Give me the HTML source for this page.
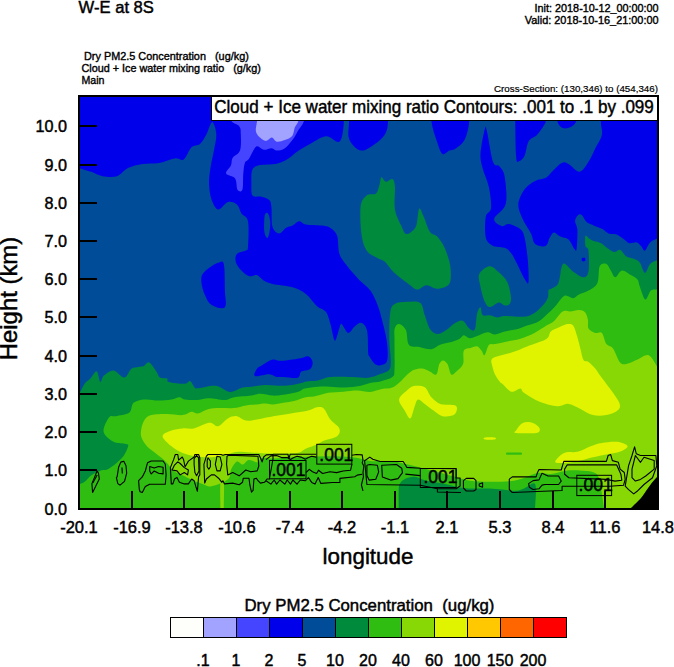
<!DOCTYPE html>
<html><head><meta charset="utf-8">
<style>
html,body{margin:0;padding:0;background:#fff;width:674px;height:667px;overflow:hidden}
svg{display:block;font-family:"Liberation Sans",sans-serif}
.b{stroke:#000;stroke-width:0.45px}
</style></head><body>
<svg width="674" height="667" viewBox="0 0 674 667">
<defs><clipPath id="pc"><rect x="80" y="97" width="577" height="411"/></clipPath></defs><g id="plot" clip-path="url(#pc)"><rect x="80" y="97" width="577" height="411" fill="#004C99"/>
<path fill="#0000EB" d="M80.00,97.00 L343.00,97.00 C343.12,101.48 344.32,116.45 343.70,123.90 C343.08,131.35 342.27,139.65 339.30,141.70 C336.33,143.75 331.10,135.63 325.90,136.20 C320.70,136.77 313.03,142.42 308.10,145.10 C303.17,147.78 299.63,150.02 296.30,152.30 C292.97,154.58 291.37,156.90 288.10,158.80 C284.83,160.70 281.58,162.62 276.70,163.70 C271.82,164.78 262.88,164.22 258.80,165.30 C254.72,166.38 253.43,167.20 252.20,170.20 C250.97,173.20 251.35,179.07 251.40,183.30 C251.45,187.53 250.83,193.37 252.50,195.60 C254.17,197.83 258.62,195.97 261.40,196.70 C264.18,197.43 267.53,198.33 269.20,200.00 C270.87,201.67 270.85,202.25 271.40,206.70 C271.95,211.15 271.20,222.25 272.50,226.70 C273.80,231.15 276.97,233.20 279.20,233.40 C281.43,233.60 283.68,229.20 285.90,227.90 C288.12,226.60 290.28,226.72 292.50,225.60 C294.72,224.48 296.97,221.38 299.20,221.20 C301.43,221.02 302.18,223.77 305.90,224.50 C309.62,225.23 317.42,225.03 321.50,225.60 C325.58,226.17 327.80,226.23 330.40,227.90 C333.00,229.57 335.62,231.35 337.10,235.60 C338.58,239.85 337.82,248.57 339.30,253.40 C340.78,258.23 342.67,260.17 346.00,264.60 C349.33,269.03 355.23,275.67 359.30,280.00 C363.37,284.33 367.28,286.23 370.40,290.60 C373.52,294.97 375.98,301.00 378.00,306.20 C380.02,311.40 381.02,315.87 382.50,321.80 C383.98,327.73 386.13,335.30 386.90,341.80 C387.67,348.30 388.18,356.90 387.10,360.80 C386.02,364.70 382.50,364.72 380.40,365.20 C378.30,365.68 376.35,365.18 374.50,363.70 C372.65,362.22 370.35,358.08 369.30,356.30 C368.25,354.52 368.57,357.27 368.20,353.00 C367.83,348.73 368.22,335.72 367.10,330.70 C365.98,325.68 363.53,323.63 361.50,322.90 C359.47,322.17 357.12,324.63 354.90,326.30 C352.68,327.97 350.43,333.28 348.20,332.90 C345.97,332.52 342.98,324.73 341.50,324.00 C340.02,323.27 340.42,325.72 339.30,328.50 C338.18,331.28 336.28,341.45 334.80,340.70 C333.32,339.95 331.88,328.82 330.40,324.00 C328.92,319.18 328.13,314.77 325.90,311.80 C323.67,308.83 320.33,309.17 317.00,306.20 C313.67,303.23 309.98,297.15 305.90,294.00 C301.82,290.85 298.07,288.97 292.50,287.30 C286.93,285.63 277.32,285.12 272.50,284.00 C267.68,282.88 266.20,282.08 263.60,280.60 C261.00,279.12 259.32,275.83 256.90,275.10 C254.48,274.37 251.68,276.95 249.10,276.20 C246.52,275.45 243.62,272.97 241.40,270.60 C239.18,268.23 236.55,264.78 235.80,262.00 C235.05,259.22 235.23,255.80 236.90,253.90 C238.57,252.00 243.95,251.78 245.80,250.60 C247.65,249.42 247.63,251.70 248.00,246.80 C248.37,241.90 249.10,226.77 248.00,221.20 C246.90,215.63 243.25,216.18 241.40,213.40 C239.55,210.62 239.13,206.40 236.90,204.50 C234.67,202.60 231.12,201.15 228.00,202.00 C224.88,202.85 220.95,210.00 218.20,209.60 C215.45,209.20 213.03,203.98 211.50,199.60 C209.97,195.22 209.15,188.73 209.00,183.30 C208.85,177.87 209.78,172.45 210.60,167.00 C211.42,161.55 212.95,156.05 213.90,150.60 C214.85,145.15 216.58,139.07 216.30,134.30 C216.02,129.53 213.83,122.00 212.20,122.00 C210.57,122.00 208.53,130.63 206.50,134.30 C204.47,137.97 202.50,141.83 200.00,144.00 C197.50,146.17 194.22,144.72 191.50,147.30 C188.78,149.88 186.48,157.65 183.70,159.50 C180.92,161.35 178.88,157.83 174.80,158.40 C170.72,158.97 164.58,161.97 159.20,162.90 C153.82,163.83 147.70,163.15 142.50,164.00 C137.30,164.85 132.25,165.97 128.00,168.00 C123.75,170.03 121.25,174.83 117.00,176.20 C112.75,177.57 106.77,176.93 102.50,176.20 C98.23,175.47 95.15,173.10 91.40,171.80 C87.65,170.50 81.90,168.97 80.00,168.40 L80.00,97.00Z"/>
<path fill="#004C99" d="M264.70,215.60 C265.32,212.63 267.07,212.28 268.00,213.40 C268.93,214.52 270.10,218.97 270.30,222.30 C270.50,225.63 269.75,230.80 269.20,233.40 C268.65,236.00 267.82,238.27 267.00,237.90 C266.18,237.53 264.68,234.92 264.30,231.20 C263.92,227.48 264.08,218.57 264.70,215.60Z"/>
<path fill="#0000EB" d="M349.00,97.00 L388.00,97.00 C388.00,101.05 388.37,115.33 388.00,121.30 C387.63,127.27 387.47,129.40 385.80,132.80 C384.13,136.20 382.05,138.73 378.00,141.70 C373.95,144.67 366.28,150.97 361.50,150.60 C356.72,150.23 351.38,144.43 349.30,139.50 C347.22,134.57 349.05,128.08 349.00,121.00 C348.95,113.92 349.00,101.00 349.00,97.00Z"/>
<path fill="#0000EB" d="M431.40,97.00 L469.30,97.00 C469.30,101.05 470.05,114.22 469.30,121.30 C468.55,128.38 467.03,134.98 464.80,139.50 C462.57,144.02 458.50,146.55 455.90,148.40 C453.30,150.25 451.43,149.67 449.20,150.60 C446.97,151.53 444.53,155.48 442.50,154.00 C440.47,152.52 438.85,147.15 437.00,141.70 C435.15,136.25 432.33,128.75 431.40,121.30 C430.47,113.85 431.40,101.05 431.40,97.00Z"/>
<path fill="#0000EB" d="M484.70,129.50 C485.75,125.65 485.40,125.08 486.80,130.50 C488.20,135.92 491.00,156.05 493.10,162.00 C495.20,167.95 497.47,163.75 499.40,166.20 C501.33,168.65 503.65,170.40 504.70,176.70 C505.75,183.00 507.45,197.00 505.70,204.00 C503.95,211.00 494.90,215.02 494.20,218.70 C493.50,222.38 499.05,225.22 501.50,226.10 C503.95,226.98 505.75,223.48 508.90,224.00 C512.05,224.52 517.78,226.93 520.40,229.20 C523.02,231.47 523.37,232.47 524.60,237.60 C525.83,242.73 527.15,252.60 527.80,260.00 C528.45,267.40 528.98,278.75 528.50,282.00 C528.02,285.25 526.98,282.88 524.90,279.50 C522.82,276.12 518.15,265.87 516.00,261.70 C513.85,257.53 513.72,256.75 512.00,254.50 C510.28,252.25 508.85,249.62 505.70,248.20 C502.55,246.78 496.42,247.77 493.10,246.00 C489.78,244.23 487.02,242.50 485.80,237.60 C484.58,232.70 484.93,221.50 485.80,216.60 C486.67,211.70 490.48,213.10 491.00,208.20 C491.52,203.30 490.30,193.85 488.90,187.20 C487.50,180.55 484.00,173.90 482.60,168.30 C481.20,162.70 480.15,160.07 480.50,153.60 C480.85,147.13 483.65,133.35 484.70,129.50Z"/>
<path fill="#0000EB" d="M515.20,97.00 L545.60,97.00 C545.60,100.83 545.77,115.47 545.60,120.00 C545.43,124.53 546.00,121.75 544.60,124.20 C543.20,126.65 539.83,131.90 537.20,134.70 C534.57,137.50 530.90,137.50 528.80,141.00 C526.70,144.50 526.17,152.37 524.60,155.70 C523.03,159.03 520.80,160.65 519.40,161.00 C518.00,161.35 516.90,164.63 516.20,157.80 C515.50,150.97 515.37,130.13 515.20,120.00 C515.03,109.87 515.20,100.83 515.20,97.00Z"/>
<path fill="#0000EB" d="M600.80,97.00 L657.00,97.00 L657.00,238.70 C655.85,239.32 652.12,240.42 650.10,242.40 C648.08,244.38 646.38,249.97 644.90,250.60 C643.42,251.23 642.57,247.57 641.20,246.20 C639.83,244.83 638.68,242.90 636.70,242.40 C634.72,241.90 631.53,243.82 629.30,243.20 C627.07,242.58 625.53,240.18 623.30,238.70 C621.07,237.22 618.37,235.17 615.90,234.30 C613.43,233.43 610.72,234.37 608.50,233.50 C606.28,232.63 605.07,230.45 602.60,229.10 C600.13,227.75 596.42,226.63 593.70,225.40 C590.98,224.17 588.28,223.43 586.30,221.70 C584.32,219.97 583.17,216.12 581.80,215.00 C580.43,213.88 579.22,214.02 578.10,215.00 C576.98,215.98 575.22,218.43 575.10,220.90 C574.98,223.37 577.15,225.10 577.40,229.80 C577.65,234.50 577.15,246.00 576.60,249.10 C576.05,252.20 575.45,250.00 574.10,248.40 C572.75,246.80 570.80,241.47 568.50,239.50 C566.20,237.53 562.72,237.78 560.30,236.60 C557.88,235.42 555.75,232.23 554.00,232.40 C552.25,232.57 551.20,235.33 549.80,237.60 C548.40,239.87 548.05,244.95 545.60,246.00 C543.15,247.05 537.55,246.00 535.10,243.90 C532.65,241.80 533.00,237.60 530.90,233.40 C528.80,229.20 524.60,223.60 522.50,218.70 C520.40,213.80 517.95,208.90 518.30,204.00 C518.65,199.10 521.80,193.15 524.60,189.30 C527.40,185.45 531.48,182.88 535.10,180.90 C538.72,178.92 543.33,179.10 546.30,177.40 C549.27,175.70 550.32,173.12 552.90,170.70 C555.48,168.28 559.20,164.02 561.80,162.90 C564.40,161.78 565.53,162.52 568.50,164.00 C571.47,165.48 576.27,172.17 579.60,171.80 C582.93,171.43 585.90,165.70 588.50,161.80 C591.10,157.90 592.97,152.85 595.20,148.40 C597.43,143.95 600.97,139.62 601.90,135.10 C602.83,130.58 600.98,127.65 600.80,121.30 C600.62,114.95 600.80,101.05 600.80,97.00Z"/>
<path fill="#0000EB" d="M557.40,97.00 L576.30,97.00 C576.30,101.05 578.15,116.07 576.30,121.30 C574.45,126.53 568.35,128.40 565.20,128.40 C562.05,128.40 558.70,126.53 557.40,121.30 C556.10,116.07 557.40,101.05 557.40,97.00Z"/>
<path fill="#0000EB" d="M582.00,258.00 C582.50,257.50 584.50,257.50 585.00,258.00 C585.50,258.50 585.50,260.50 585.00,261.00 C584.50,261.50 582.50,261.50 582.00,261.00 C581.50,260.50 581.50,258.50 582.00,258.00Z"/>
<path fill="#0000EB" d="M202.60,274.00 C204.27,271.22 208.90,268.07 211.50,266.20 C214.10,264.33 216.15,263.18 218.20,262.80 C220.25,262.42 222.68,259.27 223.80,263.90 C224.92,268.53 224.72,283.37 224.90,290.60 C225.08,297.83 227.13,304.88 224.90,307.30 C222.67,309.72 214.83,307.13 211.50,305.10 C208.17,303.07 206.57,298.80 204.90,295.10 C203.23,291.40 201.88,286.42 201.50,282.90 C201.12,279.38 200.93,276.78 202.60,274.00Z"/>
<path fill="#0000EB" d="M255.00,376.00 C252.93,375.12 255.62,370.68 256.80,368.90 C257.98,367.12 259.48,366.85 262.10,365.30 C264.72,363.75 269.28,360.35 272.50,359.60 C275.72,358.85 276.95,360.98 281.40,360.80 C285.85,360.62 294.75,359.25 299.20,358.50 C303.65,357.75 305.87,355.73 308.10,356.30 C310.33,356.87 312.25,359.80 312.60,361.90 C312.95,364.00 312.08,367.28 310.20,368.90 C308.32,370.52 303.38,370.12 301.30,371.60 C299.22,373.08 300.67,376.92 297.70,377.80 C294.73,378.68 287.07,377.05 283.50,376.90 C279.93,376.75 278.68,377.35 276.30,376.90 C273.92,376.45 272.75,374.35 269.20,374.20 C265.65,374.05 257.07,376.88 255.00,376.00Z"/>
<path fill="#4545FF" d="M230.20,97.00 L304.50,97.00 C304.50,100.67 305.60,113.33 304.50,119.00 C303.40,124.67 299.82,127.63 297.90,131.00 C295.98,134.37 295.17,136.33 293.00,139.20 C290.83,142.07 287.62,146.30 284.90,148.20 C282.18,150.10 278.88,150.60 276.70,150.60 C274.52,150.60 273.97,148.33 271.80,148.20 C269.63,148.07 266.28,150.07 263.70,149.80 C261.12,149.53 258.75,145.10 256.30,146.60 C253.85,148.10 250.90,156.08 249.00,158.80 C247.10,161.52 245.85,160.45 244.90,162.90 C243.95,165.35 243.72,169.02 243.30,173.50 C242.88,177.98 243.37,187.08 242.40,189.80 C241.43,192.52 238.72,191.70 237.50,189.80 C236.28,187.90 237.00,181.12 235.10,178.40 C233.20,175.68 226.78,175.68 226.10,173.50 C225.42,171.32 229.92,167.88 231.00,165.30 C232.08,162.72 231.10,160.45 232.60,158.00 C234.10,155.55 238.63,154.55 240.00,150.60 C241.37,146.65 240.93,138.37 240.80,134.30 C240.67,130.23 240.97,128.75 239.20,126.20 C237.43,123.65 231.70,123.87 230.20,119.00 C228.70,114.13 230.20,100.67 230.20,97.00Z"/>
<path fill="#A2A2FF" d="M257.10,97.00 L298.70,97.00 C298.70,100.67 299.37,113.87 298.70,119.00 C298.03,124.13 295.78,124.97 294.70,127.80 C293.62,130.63 293.83,133.97 292.20,136.00 C290.57,138.03 287.48,139.05 284.90,140.00 C282.32,140.95 278.88,142.10 276.70,141.70 C274.52,141.30 273.70,137.75 271.80,137.60 C269.90,137.45 267.88,141.62 265.30,140.80 C262.72,139.98 257.67,136.33 256.30,132.70 C254.93,129.07 256.97,124.95 257.10,119.00 C257.23,113.05 257.10,100.67 257.10,97.00Z"/>
<path fill="#008B3C" d="M381.40,177.20 C382.45,176.75 384.10,181.40 385.90,181.70 C387.70,182.00 390.70,178.25 392.20,179.00 C393.70,179.75 394.45,181.10 394.90,186.20 C395.35,191.30 393.85,203.00 394.90,209.60 C395.95,216.20 399.40,221.75 401.20,225.80 C403.00,229.85 403.90,233.00 405.70,233.90 C407.50,234.80 410.20,232.70 412.00,231.20 C413.80,229.70 415.30,228.65 416.50,224.90 C417.70,221.15 418.00,210.05 419.20,208.70 C420.40,207.35 421.90,212.90 423.70,216.80 C425.50,220.70 427.75,228.80 430.00,232.10 C432.25,235.40 434.80,234.05 437.20,236.60 C439.60,239.15 442.30,242.90 444.40,247.40 C446.50,251.90 448.75,258.50 449.80,263.60 C450.85,268.70 451.00,274.40 450.70,278.00 C450.40,281.60 450.25,283.42 448.00,285.20 C445.75,286.98 440.80,288.70 437.20,288.70 C433.60,288.70 429.70,285.05 426.40,285.20 C423.10,285.35 420.10,289.60 417.40,289.60 C414.70,289.60 414.10,288.03 410.20,285.20 C406.30,282.37 398.20,276.50 394.00,272.60 C389.80,268.70 387.70,264.20 385.00,261.80 C382.30,259.40 380.80,260.00 377.80,258.20 C374.80,256.40 369.70,254.90 367.00,251.00 C364.30,247.10 362.65,242.30 361.60,234.80 C360.55,227.30 359.80,212.60 360.70,206.00 C361.60,199.40 364.45,197.30 367.00,195.20 C369.55,193.10 373.90,195.20 376.00,193.40 C378.10,191.60 378.70,187.10 379.60,184.40 C380.50,181.70 380.35,177.65 381.40,177.20Z"/>
<path fill="#008B3C" d="M479.30,274.00 C480.78,270.67 486.15,266.58 489.30,266.20 C492.45,265.82 495.23,269.12 498.20,271.70 C501.17,274.28 505.00,277.67 507.10,281.70 C509.20,285.73 510.32,292.28 510.80,295.90 C511.28,299.52 511.00,301.78 510.00,303.40 C509.00,305.02 506.65,305.73 504.80,305.60 C502.95,305.47 501.37,302.35 498.90,302.60 C496.43,302.85 492.35,307.23 490.00,307.10 C487.65,306.97 486.40,305.28 484.80,301.80 C483.20,298.32 481.32,290.83 480.40,286.20 C479.48,281.57 477.82,277.33 479.30,274.00Z"/>
<path fill="#008B3C" d="M80.00,508.00 L80.00,392.00 C80.12,391.83 79.85,392.50 80.70,391.00 C81.55,389.50 83.47,385.08 85.10,383.00 C86.73,380.92 88.57,380.43 90.50,378.50 C92.43,376.57 95.07,370.82 96.70,371.40 C98.33,371.98 99.12,381.27 100.30,382.00 C101.48,382.73 101.58,377.72 103.80,375.80 C106.02,373.88 110.18,370.20 113.60,370.50 C117.02,370.80 121.33,377.90 124.30,377.60 C127.27,377.30 129.03,370.48 131.40,368.70 C133.77,366.92 136.42,367.35 138.50,366.90 C140.58,366.45 142.12,366.73 143.90,366.00 C145.68,365.27 147.13,361.60 149.20,362.50 C151.27,363.40 154.52,368.88 156.30,371.40 C158.08,373.92 158.12,376.42 159.90,377.60 C161.68,378.78 165.52,377.77 167.00,378.50 C168.48,379.23 165.83,381.12 168.80,382.00 C171.77,382.88 181.23,383.93 184.80,383.80 C188.37,383.67 188.57,380.60 190.20,381.20 C191.83,381.80 193.30,386.22 194.60,387.40 C195.90,388.58 194.47,388.57 198.00,388.30 C201.53,388.03 210.47,385.18 215.80,385.80 C221.13,386.42 225.55,391.70 230.00,392.00 C234.45,392.30 238.93,388.48 242.50,387.60 C246.07,386.72 247.55,387.15 251.40,386.70 C255.25,386.25 260.55,385.05 265.60,384.90 C270.65,384.75 277.25,385.80 281.70,385.80 C286.15,385.80 289.03,385.35 292.30,384.90 C295.57,384.45 298.92,383.68 301.30,383.10 C303.68,382.52 303.82,381.83 306.60,381.40 C309.38,380.97 314.10,381.22 318.00,380.50 C321.90,379.78 324.28,377.67 330.00,377.10 C335.72,376.53 345.87,376.98 352.30,377.10 C358.73,377.22 363.92,378.30 368.60,377.80 C373.28,377.30 376.95,375.45 380.40,374.10 C383.85,372.75 387.57,372.17 389.30,369.70 C391.03,367.23 390.80,364.25 390.80,359.30 C390.80,354.35 389.40,347.73 389.30,340.00 C389.20,332.27 389.30,318.90 390.20,312.90 C391.10,306.90 391.92,305.85 394.70,304.00 C397.48,302.15 402.63,301.98 406.90,301.80 C411.17,301.62 417.33,300.68 420.30,302.90 C423.27,305.12 423.03,310.65 424.70,315.10 C426.37,319.55 428.07,326.45 430.30,329.60 C432.53,332.75 435.32,334.00 438.10,334.00 C440.88,334.00 444.40,331.27 447.00,329.60 C449.60,327.93 451.10,325.48 453.70,324.00 C456.30,322.52 460.00,319.95 462.60,320.70 C465.20,321.45 467.27,327.02 469.30,328.50 C471.33,329.98 473.52,332.02 474.80,329.60 C476.08,327.18 476.07,317.72 477.00,314.00 C477.93,310.28 479.47,307.12 480.40,307.30 C481.33,307.48 481.00,313.78 482.60,315.10 C484.20,316.42 487.53,314.82 490.00,315.20 C492.47,315.58 494.93,317.27 497.40,317.40 C499.87,317.53 500.35,316.12 504.80,316.00 C509.25,315.88 519.15,317.20 524.10,316.70 C529.05,316.20 531.28,314.98 534.50,313.00 C537.72,311.02 541.17,307.40 543.40,304.80 C545.63,302.20 547.03,299.87 547.90,297.40 C548.77,294.93 547.95,291.50 548.60,290.00 C549.25,288.50 550.15,289.58 551.80,288.40 C553.45,287.22 556.63,286.98 558.50,282.90 C560.37,278.82 560.60,265.82 563.00,263.90 C565.40,261.98 569.52,269.17 572.90,271.40 C576.28,273.63 580.70,277.30 583.30,277.30 C585.90,277.30 587.63,275.85 588.50,271.40 C589.37,266.95 589.00,254.80 588.50,250.60 C588.00,246.40 586.00,248.67 585.50,246.20 C585.00,243.73 584.88,237.05 585.50,235.80 C586.12,234.55 587.83,237.83 589.20,238.70 C590.57,239.57 591.72,240.25 593.70,241.00 C595.68,241.75 598.63,241.85 601.10,243.20 C603.57,244.55 606.28,247.62 608.50,249.10 C610.72,250.58 612.42,251.97 614.40,252.10 C616.38,252.23 618.42,249.17 620.40,249.90 C622.38,250.63 624.08,255.02 626.30,256.50 C628.52,257.98 631.47,257.80 633.70,258.80 C635.93,259.80 637.83,260.15 639.70,262.50 C641.57,264.85 643.17,272.65 644.90,272.90 C646.63,273.15 648.08,266.10 650.10,264.00 C652.12,261.90 655.85,260.92 657.00,260.30 L657.00,508.00 L80.00,508.00Z"/>
<path fill="#30BD12" d="M80.00,508.00 L80.00,484.00 C80.78,483.63 82.80,483.27 84.70,481.80 C86.60,480.33 88.80,477.05 91.40,475.20 C94.00,473.35 97.33,471.82 100.30,470.70 C103.27,469.58 105.50,470.73 109.20,468.50 C112.90,466.27 119.35,461.02 122.50,457.30 C125.65,453.58 127.53,448.42 128.10,446.20 C128.67,443.98 128.32,444.73 125.90,444.00 C123.48,443.27 117.32,443.83 113.60,441.80 C109.88,439.77 104.33,435.88 103.60,431.80 C102.87,427.72 107.17,419.90 109.20,417.30 C111.23,414.70 112.47,416.95 115.80,416.20 C119.13,415.45 126.23,415.03 129.20,412.80 C132.17,410.57 131.00,405.02 133.60,402.80 C136.20,400.58 140.72,399.87 144.80,399.50 C148.88,399.13 153.65,400.60 158.10,400.60 C162.55,400.60 167.97,400.05 171.50,399.50 C175.03,398.95 177.08,397.30 179.30,397.30 C181.52,397.30 181.68,399.05 184.80,399.50 C187.92,399.95 194.02,400.20 198.00,400.00 C201.98,399.80 204.25,398.30 208.70,398.30 C213.15,398.30 220.55,400.15 224.70,400.00 C228.85,399.85 229.15,398.13 233.60,397.40 C238.05,396.67 246.95,396.20 251.40,395.60 C255.85,395.00 256.73,393.80 260.30,393.80 C263.87,393.80 268.93,395.45 272.80,395.60 C276.67,395.75 279.35,395.30 283.50,394.70 C287.65,394.10 294.15,393.03 297.70,392.00 C301.25,390.97 301.42,389.38 304.80,388.50 C308.18,387.62 313.80,387.00 318.00,386.70 C322.20,386.40 325.53,386.57 330.00,386.70 C334.47,386.83 339.85,387.62 344.80,387.50 C349.75,387.38 355.48,386.75 359.70,386.00 C363.92,385.25 366.65,383.75 370.10,383.00 C373.55,382.25 376.70,382.48 380.40,381.50 C384.10,380.52 389.95,379.07 392.30,377.10 C394.65,375.13 394.13,375.88 394.50,369.70 C394.87,363.52 394.47,346.87 394.50,340.00 C394.53,333.13 393.93,331.17 394.70,328.50 C395.47,325.83 397.23,323.75 399.10,324.00 C400.97,324.25 404.27,326.53 405.90,330.00 C407.53,333.47 406.67,341.95 408.90,344.80 C411.13,347.65 415.58,346.35 419.30,347.10 C423.02,347.85 427.73,349.68 431.20,349.30 C434.67,348.92 437.13,345.92 440.10,344.80 C443.07,343.68 445.80,343.58 449.00,342.60 C452.20,341.62 456.83,340.13 459.30,338.90 C461.77,337.67 462.07,335.32 463.80,335.20 C465.53,335.08 467.47,338.08 469.70,338.20 C471.93,338.32 474.23,336.90 477.20,335.90 C480.17,334.90 484.53,332.43 487.50,332.20 C490.47,331.97 492.12,334.62 495.00,334.50 C497.88,334.38 501.18,332.37 504.80,331.50 C508.42,330.63 512.98,330.28 516.70,329.30 C520.42,328.32 523.38,326.95 527.10,325.60 C530.82,324.25 535.30,323.42 539.00,321.20 C542.70,318.98 546.58,314.78 549.30,312.30 C552.02,309.82 552.82,309.03 555.30,306.30 C557.78,303.57 561.23,297.25 564.20,295.90 C567.17,294.55 570.63,298.43 573.10,298.20 C575.57,297.97 576.43,295.77 579.00,294.50 C581.57,293.23 585.43,292.53 588.50,290.60 C591.57,288.67 595.53,286.97 597.40,282.90 C599.27,278.83 598.20,269.37 599.70,266.20 C601.20,263.03 604.55,263.17 606.40,263.90 C608.25,264.63 609.32,268.37 610.80,270.60 C612.28,272.83 613.45,277.30 615.30,277.30 C617.15,277.30 619.32,270.97 621.90,270.60 C624.48,270.23 628.20,273.62 630.80,275.10 C633.40,276.58 636.02,277.65 637.50,279.50 C638.98,281.35 638.40,282.87 639.70,286.20 C641.00,289.53 643.43,298.77 645.30,299.50 C647.17,300.23 648.95,292.27 650.90,290.60 C652.85,288.93 655.98,289.68 657.00,289.50 L657.00,508.00 L80.00,508.00Z"/>
<path fill="#008B3C" d="M398.70,508.00 C398.70,505.00 398.48,494.10 398.70,490.00 C398.92,485.90 398.88,485.28 400.00,483.40 C401.12,481.52 402.95,479.82 405.40,478.70 C407.85,477.58 411.15,476.37 414.70,476.70 C418.25,477.03 422.02,479.58 426.70,480.70 C431.38,481.82 437.23,482.28 442.80,483.40 C448.37,484.52 455.32,486.55 460.10,487.40 C464.88,488.25 466.63,488.32 471.50,488.50 C476.37,488.68 484.12,488.32 489.30,488.50 C494.48,488.68 498.15,489.23 502.60,489.60 C507.05,489.97 512.43,490.88 516.00,490.70 C519.57,490.52 520.82,489.60 524.00,488.50 C527.18,487.40 533.25,480.85 535.10,484.10 C536.95,487.35 535.10,504.02 535.10,508.00 L398.70,508.00Z"/>
<path fill="#88D806" d="M141.40,437.30 C140.47,434.33 140.83,431.37 141.40,428.40 C141.97,425.43 143.13,421.72 144.80,419.50 C146.47,417.28 147.70,416.02 151.40,415.10 C155.10,414.18 161.80,414.00 167.00,414.00 C172.20,414.00 178.52,415.48 182.60,415.10 C186.68,414.72 188.93,411.98 191.50,411.70 C194.07,411.42 195.13,413.85 198.00,413.40 C200.87,412.95 205.13,409.88 208.70,409.00 C212.27,408.12 215.25,408.25 219.40,408.10 C223.55,407.95 229.15,408.55 233.60,408.10 C238.05,407.65 242.23,406.00 246.10,405.40 C249.97,404.80 253.55,404.80 256.80,404.50 C260.05,404.20 262.93,403.60 265.60,403.60 C268.27,403.60 269.82,404.65 272.80,404.50 C275.78,404.35 279.95,403.30 283.50,402.70 C287.05,402.10 290.55,401.78 294.10,400.90 C297.65,400.02 301.53,398.13 304.80,397.40 C308.07,396.67 311.50,396.80 313.70,396.50 C315.90,396.20 315.58,396.22 318.00,395.60 C320.42,394.98 323.92,393.45 328.20,392.80 C332.48,392.15 338.88,392.07 343.70,391.70 C348.52,391.33 352.70,390.57 357.10,390.60 C361.50,390.63 365.97,392.17 370.10,391.90 C374.23,391.63 378.20,389.73 381.90,389.00 C385.60,388.27 389.28,388.68 392.30,387.50 C395.32,386.32 397.73,383.82 400.00,381.90 C402.27,379.98 403.67,377.97 405.90,376.00 C408.13,374.03 410.67,371.33 413.40,370.10 C416.13,368.87 419.58,368.37 422.30,368.60 C425.02,368.83 427.35,370.52 429.70,371.50 C432.05,372.48 434.80,375.73 436.40,374.50 C438.00,373.27 438.20,366.45 439.30,364.10 C440.40,361.75 441.63,360.40 443.00,360.40 C444.37,360.40 446.13,361.75 447.50,364.10 C448.87,366.45 449.72,373.27 451.20,374.50 C452.68,375.73 454.42,373.23 456.40,371.50 C458.38,369.77 461.87,367.55 463.10,364.10 C464.33,360.65 462.45,353.52 463.80,350.80 C465.15,348.08 468.97,348.55 471.20,347.80 C473.43,347.05 475.47,345.80 477.20,346.30 C478.93,346.80 480.37,349.32 481.60,350.80 C482.83,352.28 483.37,356.20 484.60,355.20 C485.83,354.20 487.27,346.65 489.00,344.80 C490.73,342.95 492.37,344.58 495.00,344.10 C497.63,343.62 500.68,342.75 504.80,341.90 C508.92,341.05 514.75,340.48 519.70,339.00 C524.65,337.52 530.05,335.23 534.50,333.00 C538.95,330.77 543.18,327.57 546.40,325.60 C549.62,323.63 551.08,323.55 553.80,321.20 C556.52,318.85 559.98,313.12 562.70,311.50 C565.42,309.88 567.38,311.75 570.10,311.50 C572.82,311.25 576.52,309.87 579.00,310.00 C581.48,310.13 583.52,310.68 585.00,312.30 C586.48,313.92 587.32,317.00 587.90,319.70 C588.48,322.40 587.28,326.30 588.50,328.50 C589.72,330.70 592.97,332.17 595.20,332.90 C597.43,333.63 600.03,331.03 601.90,332.90 C603.77,334.77 604.55,341.50 606.40,344.10 C608.25,346.70 610.78,345.53 613.00,348.50 C615.22,351.47 617.47,359.30 619.70,361.90 C621.93,364.50 623.43,364.48 626.40,364.10 C629.37,363.72 633.80,361.08 637.50,359.60 C641.20,358.12 645.35,354.08 648.60,355.20 C651.85,356.32 655.60,364.45 657.00,366.30 L657.00,508.00 L604.00,508.00 C603.28,503.63 601.17,487.63 599.70,481.80 C598.23,475.97 598.17,474.85 595.20,473.00 C592.23,471.15 586.72,471.08 581.90,470.70 C577.08,470.32 571.50,470.15 566.30,470.70 C561.10,471.25 555.52,473.62 550.70,474.00 C545.88,474.38 541.85,472.33 537.40,473.00 C532.95,473.67 528.32,476.67 524.00,478.00 C519.68,479.33 517.28,480.37 511.50,481.00 C505.72,481.63 496.22,481.85 489.30,481.80 C482.38,481.75 475.75,481.55 470.00,480.70 C464.25,479.85 460.45,478.25 454.80,476.70 C449.15,475.15 441.90,472.95 436.10,471.40 C430.30,469.85 425.12,468.63 420.00,467.40 C414.88,466.17 409.83,465.02 405.40,464.00 C400.97,462.98 397.97,461.80 393.40,461.30 C388.83,460.80 381.83,461.05 378.00,461.00 C374.17,460.95 374.63,461.62 370.40,461.00 C366.17,460.38 359.67,458.08 352.60,457.30 C345.53,456.52 336.53,456.35 328.00,456.30 C319.47,456.25 310.65,456.63 301.40,457.00 C292.15,457.37 279.05,458.37 272.50,458.50 C265.95,458.63 264.57,457.17 262.10,457.80 C259.63,458.43 259.92,461.93 257.70,462.30 C255.48,462.67 251.28,459.63 248.80,460.00 C246.32,460.37 244.78,464.25 242.80,464.50 C240.82,464.75 238.87,460.63 236.90,461.50 C234.93,462.37 232.48,466.73 231.00,469.70 C229.52,472.67 231.25,476.53 228.00,479.30 C224.75,482.07 215.73,485.50 211.50,486.30 C207.27,487.10 205.93,485.22 202.60,484.10 C199.27,482.98 194.83,481.08 191.50,479.60 C188.17,478.12 185.57,476.68 182.60,475.20 C179.63,473.72 176.67,473.12 173.70,470.70 C170.73,468.28 168.13,463.85 164.80,460.70 C161.47,457.55 156.67,454.22 153.70,451.80 C150.73,449.38 149.05,448.62 147.00,446.20 C144.95,443.78 142.33,440.27 141.40,437.30Z"/>
<path fill="#88D806" d="M220.40,482.00 C220.97,477.67 223.23,477.67 223.80,482.00 C224.37,486.33 223.80,503.67 223.80,508.00 L220.40,508.00 C220.40,503.67 219.83,486.33 220.40,482.00Z"/>
<rect x="506" y="452.5" width="16" height="2.2" rx="1" fill="#30BD12"/>
<path fill="#E0F400" d="M162.60,436.20 C162.60,433.60 168.17,431.90 171.50,430.60 C174.83,429.30 178.90,428.77 182.60,428.40 C186.30,428.03 189.98,429.13 193.70,428.40 C197.42,427.67 201.93,424.92 204.90,424.00 C207.87,423.08 209.28,422.53 211.50,422.90 C213.72,423.27 215.45,426.95 218.20,426.20 C220.95,425.45 224.88,420.07 228.00,418.40 C231.12,416.73 233.93,415.83 236.90,416.20 C239.87,416.57 242.47,420.05 245.80,420.60 C249.13,421.15 253.18,420.05 256.90,419.50 C260.62,418.95 264.02,418.03 268.10,417.30 C272.18,416.57 276.95,415.85 281.40,415.10 C285.85,414.35 290.35,413.55 294.80,412.80 C299.25,412.05 304.40,411.52 308.10,410.60 C311.80,409.68 314.40,407.67 317.00,407.30 C319.60,406.93 321.47,406.37 323.70,408.40 C325.93,410.43 327.80,416.17 330.40,419.50 C333.00,422.83 338.18,425.62 339.30,428.40 C340.42,431.18 339.70,434.15 337.10,436.20 C334.50,438.25 327.05,439.32 323.70,440.70 C320.35,442.08 320.08,443.13 317.00,444.50 C313.92,445.87 308.17,447.55 305.20,448.90 C302.23,450.25 302.18,451.85 299.20,452.60 C296.22,453.35 292.98,453.27 287.30,453.40 C281.62,453.53 271.27,453.53 265.10,453.40 C258.93,453.27 255.00,452.85 250.30,452.60 C245.60,452.35 240.62,451.67 236.90,451.90 C233.18,452.13 232.23,453.10 228.00,454.00 C223.77,454.90 216.83,456.93 211.50,457.30 C206.17,457.67 200.82,456.93 196.00,456.20 C191.18,455.47 186.68,454.57 182.60,452.90 C178.52,451.23 174.83,448.98 171.50,446.20 C168.17,443.42 162.60,438.80 162.60,436.20Z"/>
<path fill="#E0F400" d="M399.10,399.50 C399.47,396.17 404.48,392.83 406.90,390.60 C409.32,388.37 410.63,386.67 413.60,386.10 C416.57,385.53 421.73,385.33 424.70,387.20 C427.67,389.07 428.80,394.52 431.40,397.30 C434.00,400.08 436.58,402.62 440.30,403.90 C444.02,405.18 450.92,404.25 453.70,405.00 C456.48,405.75 457.00,406.72 457.00,408.40 C457.00,410.08 456.12,413.80 453.70,415.10 C451.28,416.40 445.85,416.95 442.50,416.20 C439.15,415.45 436.57,412.65 433.60,410.60 C430.63,408.55 427.28,405.75 424.70,403.90 C422.12,402.05 419.77,399.12 418.10,399.50 C416.43,399.88 416.00,403.05 414.70,406.20 C413.40,409.35 411.97,417.67 410.30,418.40 C408.63,419.13 406.57,413.75 404.70,410.60 C402.83,407.45 398.73,402.83 399.10,399.50Z"/>
<path fill="#E0F400" d="M491.50,360.00 C492.15,358.63 492.43,358.08 495.90,356.80 C499.37,355.52 507.10,354.03 512.30,352.30 C517.50,350.57 521.42,348.62 527.10,346.40 C532.78,344.18 542.45,341.48 546.40,339.00 C550.35,336.52 548.58,333.48 550.80,331.50 C553.02,329.52 556.97,328.33 559.70,327.10 C562.43,325.87 564.97,324.35 567.20,324.10 C569.43,323.85 571.38,323.37 573.10,325.60 C574.82,327.83 576.27,333.55 577.50,337.50 C578.73,341.45 579.50,345.55 580.50,349.30 C581.50,353.05 582.17,357.90 583.50,360.00 C584.83,362.10 586.55,360.48 588.50,361.90 C590.45,363.32 593.33,366.32 595.20,368.50 C597.07,370.68 597.83,372.43 599.70,375.00 C601.57,377.57 604.18,380.93 606.40,383.90 C608.62,386.87 610.78,389.47 613.00,392.80 C615.22,396.13 618.95,400.93 619.70,403.90 C620.45,406.87 619.72,408.73 617.50,410.60 C615.28,412.47 610.48,414.35 606.40,415.10 C602.32,415.85 597.47,416.22 593.00,415.10 C588.53,413.98 583.68,410.27 579.60,408.40 C575.52,406.53 572.20,404.27 568.50,403.90 C564.80,403.53 562.22,406.57 557.40,406.20 C552.58,405.83 545.17,403.93 539.60,401.70 C534.03,399.47 527.20,395.02 524.00,392.80 C520.80,390.58 522.48,388.58 520.40,388.40 C518.32,388.22 514.47,392.45 511.50,391.70 C508.53,390.95 504.52,385.53 502.60,383.90 C500.68,382.27 501.27,383.47 500.00,381.90 C498.73,380.33 496.33,377.32 495.00,374.50 C493.67,371.68 492.58,367.42 492.00,365.00 C491.42,362.58 490.85,361.37 491.50,360.00Z"/>
<path fill="#E0F400" d="M516.00,430.60 C517.12,428.93 519.88,424.18 522.70,422.90 C525.52,421.62 530.08,421.98 532.90,422.90 C535.72,423.82 539.05,426.73 539.60,428.40 C540.15,430.07 540.13,432.15 536.20,432.90 C532.27,433.65 519.37,433.28 516.00,432.90 C512.63,432.52 514.88,432.27 516.00,430.60Z"/>
<path fill="#E0F400" d="M555.20,461.80 C555.20,460.13 560.40,454.57 564.10,452.90 C567.80,451.23 572.95,452.92 577.40,451.80 C581.85,450.68 586.72,447.68 590.80,446.20 C594.88,444.72 597.45,443.63 601.90,442.90 C606.35,442.17 613.23,441.25 617.50,441.80 C621.77,442.35 627.13,444.53 627.50,446.20 C627.87,447.87 622.85,450.50 619.70,451.80 C616.55,453.10 613.05,453.08 608.60,454.00 C604.15,454.92 597.83,456.18 593.00,457.30 C588.17,458.42 584.42,459.77 579.60,460.70 C574.78,461.63 568.17,462.72 564.10,462.90 C560.03,463.08 555.20,463.47 555.20,461.80Z"/>
<path fill="#E0F400" d="M484.80,437.50 C486.47,437.17 493.13,437.17 494.80,437.50 C496.47,437.83 496.47,439.17 494.80,439.50 C493.13,439.83 486.47,439.83 484.80,439.50 C483.13,439.17 483.13,437.83 484.80,437.50Z"/>
<path fill="#000" d="M631.00,508.00 C632.67,506.33 638.50,500.83 641.00,498.00 C643.50,495.17 644.33,493.33 646.00,491.00 C647.67,488.67 649.17,486.33 651.00,484.00 C652.83,481.67 656.00,478.17 657.00,477.00 L657.00,508.00 L631.00,508.00Z"/></g><g fill="none" stroke="#000" stroke-width="1.1" stroke-linejoin="round"><path d="M92.6,492.5 L91.9,483.6 L94.1,478.4 L97.1,471.0 L98.5,473.2 L99.3,479.1 L96.3,485.1 L94.1,489.5Z"/><path d="M92.8,483.0 L97.2,475.0"/><path d="M117.1,476.9 L118.6,467.3 L120.8,462.1 L123.8,461.3 L126.0,465.8 L126.7,473.2 L124.5,481.4 L120.0,485.1 L117.8,483.6 L116.4,477.6Z"/><path d="M122.0,467.5 L122.3,473.5"/><path d="M139.3,489.5 L138.6,480.6 L142.3,476.9 L145.3,471.0 L147.5,462.8 L151.2,461.0 L163.1,461.0 L165.3,464.3 L166.1,474.7 L165.3,484.3 L149.7,484.3 L145.3,486.5 L142.3,492.5 L140.1,491.7Z"/><path d="M149.7,466.5 L154.2,468.0 L158.6,466.5 L163.1,467.3 L163.1,473.9 L158.6,473.2 L154.2,471.0 L151.2,473.9 L149.7,471.0Z"/><path d="M171.3,483.9 L170.4,467.6 L173.7,459.4 L175.3,454.5 L177.8,454.5 L178.6,460.2 L182.3,457.0 L183.5,459.4 L185.1,466.8 L188.4,461.1 L194.1,457.0 L194.9,454.5 L198.6,454.5 L199.8,457.8 L199.8,474.9 L198.6,476.6 L197.4,491.3 L195.8,486.4 L194.1,480.7 L191.7,479.0 L188.4,483.9 L184.3,483.9 L179.4,482.3 L177.0,477.4 L174.5,479.0 L172.9,483.9Z"/><path d="M172.1,470.0 L177.0,470.9 L180.2,474.9 L184.3,472.5 L187.6,474.9 L188.4,470.0 L184.3,467.6 L180.2,463.5 L177.8,461.9 L174.5,465.1Z"/><path d="M194.1,458.6 L196.6,455.3 L198.6,457.8 L199.0,470.9 L196.6,475.8 L194.9,472.5 L194.1,464.3Z"/><path d="M208.0,457.8 L210.4,461.1 L210.4,466.8 L208.8,469.2 L207.2,466.8 L207.2,460.2Z"/><path d="M217.0,456.2 L220.2,457.0 L221.9,464.3 L220.2,470.9 L217.0,470.9 L215.3,464.3Z"/><path d="M204.7,483.1 L203.9,464.3 L206.4,456.2 L208.0,454.5 L221.1,454.5 L223.0,455.3 L225.3,454.5 L258.8,454.5 L260.4,457.8 L262.1,461.9 L263.7,457.0 L266.2,454.9 L273.0,454.5 L273.0,459.0 L269.4,479.0 L267.0,479.0 L264.5,482.3 L260.4,483.1 L258.0,480.7 L256.4,478.2 L253.9,479.0 L253.1,490.4 L251.5,492.1 L249.8,484.7 L249.0,478.2 L243.3,478.2 L242.5,482.3 L239.2,484.7 L232.7,483.1 L224.5,483.9 L222.9,480.7 L221.9,482.3 L218.6,478.2 L214.5,474.9 L211.3,474.9 L206.4,479.0Z"/><path d="M227.0,456.2 L228.6,455.3 L258.0,456.2 L258.8,466.0 L257.2,470.9 L250.7,471.7 L245.8,470.0 L239.2,475.8 L232.7,472.5 L227.8,474.9 L226.6,464.3Z"/><path d="M273.0,454.3 L288.0,454.3 L288.9,458.8 L290.1,454.3 L316.2,454.3"/><path d="M266.0,459.6 L270.9,455.9 L276.6,455.5 L281.5,457.6 L287.2,457.6 L290.5,459.5 L293.8,457.6 L297.0,456.3 L301.1,457.1 L305.2,459.2 L308.4,457.6 L311.7,456.3 L316.2,457.1"/><path d="M266.0,480.8 L270.9,484.1 L274.2,480.0 L276.6,484.1 L279.9,480.0 L284.8,484.1 L287.2,480.0 L290.5,484.1 L292.9,480.0 L297.0,484.1 L300.3,480.0 L305.2,480.8 L308.4,477.6 L311.7,482.4 L315.0,484.1 L318.2,477.6 L320.9,483.4 L332.5,482.5 L339.9,482.5 L339.9,478.4 L354.8,476.8 L357.2,475.1 L362.2,474.3"/><path d="M306.0,472.7 L309.3,469.4 L312.5,471.8 L316.6,473.5 L318.5,470.2 L322.6,473.5 L330.0,471.8 L336.6,472.6 L343.2,471.0 L350.6,470.2 L351.5,466.0 L352.0,464.2"/><path d="M351.9,455.3 L356.4,454.5 L362.2,454.9 L363.0,460.3 L362.2,462.7 L363.8,466.0 L363.0,472.6 L363.4,476.8 L361.4,485.0 L363.0,490.8"/><path d="M364.6,460.8 L369.8,457.1 L372.8,459.3 L380.2,461.5 L403.2,461.5 L406.9,467.4 L420.3,468.2 L456.1,468.7 L456.1,478.0 L460.1,478.0 L460.1,486.0 L456.1,488.7 L437.4,488.7 L420.3,485.3 L366.9,484.5Z"/><path d="M437.4,488.7 L437.4,492.0 L461.0,492.5"/><path d="M366.9,465.2 L369.8,464.5 L377.3,465.2 L378.7,471.9 L375.8,479.3 L369.1,480.1 L366.9,475.6Z"/><path d="M381.7,465.2 L396.5,464.5 L401.7,468.2 L402.5,472.6 L398.0,478.6 L390.6,480.1 L382.4,477.1Z"/><path d="M405.4,474.1 L420.3,475.6"/><path d="M463.4,480.6 L466.3,478.4 L473.7,478.4 L476.0,480.6 L476.0,489.5 L473.7,491.0 L466.3,491.0 L463.4,488.0Z"/><path d="M479.2,484.0 L482.6,482.8 L482.6,487.3 L479.2,486.0Z"/><path d="M509.3,489.5 L509.3,479.1 L512.3,476.9 L536.1,476.9 L537.5,472.4 L539.0,469.5 L561.2,470.0 L563.8,461.4 L606.4,461.4 L608.1,455.5 L610.7,454.6 L612.4,460.6 L618.4,462.3 L620.1,469.1 L624.3,472.5 L625.2,479.4 L623.5,485.3 L609.8,486.2 L562.1,486.2 L562.1,490.5 L512.3,492.5Z"/><path d="M528.6,483.6 L533.1,480.6 L539.0,479.9 L542.0,473.2 L548.0,476.0 L558.6,476.0 L561.2,481.1 L558.6,484.5 L545.0,484.5 L542.0,485.1 L539.0,488.8 L533.1,489.5 L529.4,487.3Z"/><path d="M564.6,469.1 L567.2,464.9 L616.7,464.9 L620.9,474.2 L621.8,480.2 L615.0,481.1 L606.4,479.4 L568.9,477.7 L564.6,474.2Z"/><path d="M625.2,486.2 L628.6,465.7 L632.0,455.5 L634.6,446.9 L636.3,453.8 L640.5,455.5 L655.9,455.5 L656.8,465.7 L652.5,477.7 L644.0,484.5 L637.1,491.3 L633.7,493.9 L628.6,489.6Z"/><path d="M632.0,469.1 L635.4,455.5 L640.5,462.3 L644.0,457.2 L654.2,460.6 L654.2,469.1 L645.7,476.0 L640.5,479.4 L635.4,481.1 L632.0,477.7Z"/></g><g fill="none" stroke="#000" stroke-width="1"><rect x="269.5" y="460.5" width="36.5" height="18.3"/><rect x="316.8" y="444.3" width="35" height="19.8"/><rect x="420.3" y="468.5" width="35.8" height="19"/><rect x="576.8" y="475.3" width="34.8" height="20.3"/></g><g font-size="17.5" fill="#000" class="b"><text x="271.5" y="475.9">.001</text><text x="319.3" y="460.8">.001</text><text x="423.5" y="483.4">.001</text><text x="578.6" y="491.3">.001</text></g><rect x="79" y="96" width="579" height="413" fill="none" stroke="#000" stroke-width="2"/>
<text x="67" y="515" font-size="16.2" text-anchor="end" class="b">0.0</text>
<rect x="80" y="469" width="17" height="2" fill="#000"/>
<text x="67" y="476" font-size="16.2" text-anchor="end" class="b">1.0</text>
<rect x="80" y="431" width="17" height="2" fill="#000"/>
<text x="67" y="438" font-size="16.2" text-anchor="end" class="b">2.0</text>
<rect x="80" y="393" width="17" height="2" fill="#000"/>
<text x="67" y="400" font-size="16.2" text-anchor="end" class="b">3.0</text>
<rect x="80" y="355" width="17" height="2" fill="#000"/>
<text x="67" y="362" font-size="16.2" text-anchor="end" class="b">4.0</text>
<rect x="80" y="316" width="17" height="2" fill="#000"/>
<text x="67" y="323" font-size="16.2" text-anchor="end" class="b">5.0</text>
<rect x="80" y="278" width="17" height="2" fill="#000"/>
<text x="67" y="285" font-size="16.2" text-anchor="end" class="b">6.0</text>
<rect x="80" y="240" width="17" height="2" fill="#000"/>
<text x="67" y="247" font-size="16.2" text-anchor="end" class="b">7.0</text>
<rect x="80" y="202" width="17" height="2" fill="#000"/>
<text x="67" y="209" font-size="16.2" text-anchor="end" class="b">8.0</text>
<rect x="80" y="164" width="17" height="2" fill="#000"/>
<text x="67" y="171" font-size="16.2" text-anchor="end" class="b">9.0</text>
<rect x="80" y="125" width="17" height="2" fill="#000"/>
<text x="67" y="132" font-size="16.2" text-anchor="end" class="b">10.0</text>
<text x="79.0" y="533" font-size="16.5" text-anchor="middle" class="b">-20.1</text>
<rect x="131" y="491" width="2" height="17" fill="#000"/>
<text x="132.0" y="533" font-size="16.5" text-anchor="middle" class="b">-16.9</text>
<rect x="183" y="491" width="2" height="17" fill="#000"/>
<text x="184.0" y="533" font-size="16.5" text-anchor="middle" class="b">-13.8</text>
<rect x="236" y="491" width="2" height="17" fill="#000"/>
<text x="237.0" y="533" font-size="16.5" text-anchor="middle" class="b">-10.6</text>
<rect x="289" y="491" width="2" height="17" fill="#000"/>
<text x="290.0" y="533" font-size="16.5" text-anchor="middle" class="b">-7.4</text>
<rect x="341" y="491" width="2" height="17" fill="#000"/>
<text x="342.0" y="533" font-size="16.5" text-anchor="middle" class="b">-4.2</text>
<rect x="394" y="491" width="2" height="17" fill="#000"/>
<text x="395.0" y="533" font-size="16.5" text-anchor="middle" class="b">-1.1</text>
<rect x="446" y="491" width="2" height="17" fill="#000"/>
<text x="447.0" y="533" font-size="16.5" text-anchor="middle" class="b">2.1</text>
<rect x="499" y="491" width="2" height="17" fill="#000"/>
<text x="500.0" y="533" font-size="16.5" text-anchor="middle" class="b">5.3</text>
<rect x="552" y="491" width="2" height="17" fill="#000"/>
<text x="553.0" y="533" font-size="16.5" text-anchor="middle" class="b">8.4</text>
<rect x="604" y="491" width="2" height="17" fill="#000"/>
<text x="605.0" y="533" font-size="16.5" text-anchor="middle" class="b">11.6</text>
<text x="658.0" y="533" font-size="16.5" text-anchor="middle" class="b">14.8</text>
<text x="368" y="564" font-size="22.4" text-anchor="middle" class="b">longitude</text>
<text transform="translate(17.2,298.5) rotate(-90)" font-size="23.9" text-anchor="middle" class="b">Height (km)</text>
<text x="78.6" y="13" font-size="16.6" class="b">W-E at 8S</text>
<text x="534.6" y="11.6" font-size="11.6" stroke="#000" stroke-width="0.4" lengthAdjust="spacingAndGlyphs" textLength="124">Init: 2018-10-12_00:00:00</text>
<text x="524.8" y="23.6" font-size="11.6" stroke="#000" stroke-width="0.4" lengthAdjust="spacingAndGlyphs" textLength="133.8">Valid: 2018-10-16_21:00:00</text>
<text x="84" y="60" font-size="11.6" stroke="#000" stroke-width="0.4" lengthAdjust="spacingAndGlyphs" textLength="164.8" xml:space="preserve">Dry PM2.5 Concentration   (ug/kg)</text>
<text x="81.5" y="71.8" font-size="11.6" stroke="#000" stroke-width="0.4" lengthAdjust="spacingAndGlyphs" textLength="179.3" xml:space="preserve">Cloud + Ice water mixing ratio   (g/kg)</text>
<text x="81.5" y="83.5" font-size="11.6" stroke="#000" stroke-width="0.4" lengthAdjust="spacingAndGlyphs" textLength="23">Main</text>
<text x="494" y="91.8" font-size="9.8" stroke="#000" stroke-width="0.2" lengthAdjust="spacingAndGlyphs" textLength="164">Cross-Section: (130,346) to (454,346)</text>
<rect x="211.5" y="96.5" width="446" height="24" fill="#fff" stroke="#000" stroke-width="1"/>
<text x="214.3" y="112.8" font-size="18.4" class="b" textLength="439.5" lengthAdjust="spacingAndGlyphs">Cloud + Ice water mixing ratio Contours: .001 to .1 by .099</text>
<text x="244.5" y="611" font-size="16.8" class="b" xml:space="preserve">Dry PM2.5 Concentration  (ug/kg)</text>
<rect x="170.5" y="617.5" width="33" height="20" fill="#FEFEFA" stroke="#000" stroke-width="1"/>
<rect x="203.5" y="617.5" width="33" height="20" fill="#A2A2FF" stroke="#000" stroke-width="1"/>
<rect x="236.5" y="617.5" width="33" height="20" fill="#4545FF" stroke="#000" stroke-width="1"/>
<rect x="269.5" y="617.5" width="33" height="20" fill="#0000EB" stroke="#000" stroke-width="1"/>
<rect x="302.5" y="617.5" width="33" height="20" fill="#004C99" stroke="#000" stroke-width="1"/>
<rect x="335.5" y="617.5" width="33" height="20" fill="#008B3C" stroke="#000" stroke-width="1"/>
<rect x="368.5" y="617.5" width="33" height="20" fill="#30BD12" stroke="#000" stroke-width="1"/>
<rect x="401.5" y="617.5" width="33" height="20" fill="#88D806" stroke="#000" stroke-width="1"/>
<rect x="434.5" y="617.5" width="33" height="20" fill="#E0F400" stroke="#000" stroke-width="1"/>
<rect x="467.5" y="617.5" width="33" height="20" fill="#FFC800" stroke="#000" stroke-width="1"/>
<rect x="500.5" y="617.5" width="33" height="20" fill="#FF6600" stroke="#000" stroke-width="1"/>
<rect x="533.5" y="617.5" width="33" height="20" fill="#FF0000" stroke="#000" stroke-width="1"/>
<text x="203" y="665.5" font-size="16" text-anchor="middle" class="b">.1</text>
<text x="236" y="665.5" font-size="16" text-anchor="middle" class="b">1</text>
<text x="269" y="665.5" font-size="16" text-anchor="middle" class="b">2</text>
<text x="302" y="665.5" font-size="16" text-anchor="middle" class="b">5</text>
<text x="335" y="665.5" font-size="16" text-anchor="middle" class="b">10</text>
<text x="368" y="665.5" font-size="16" text-anchor="middle" class="b">20</text>
<text x="401" y="665.5" font-size="16" text-anchor="middle" class="b">40</text>
<text x="434" y="665.5" font-size="16" text-anchor="middle" class="b">60</text>
<text x="467" y="665.5" font-size="16" text-anchor="middle" class="b">100</text>
<text x="500" y="665.5" font-size="16" text-anchor="middle" class="b">150</text>
<text x="533" y="665.5" font-size="16" text-anchor="middle" class="b">200</text></svg></body></html>
